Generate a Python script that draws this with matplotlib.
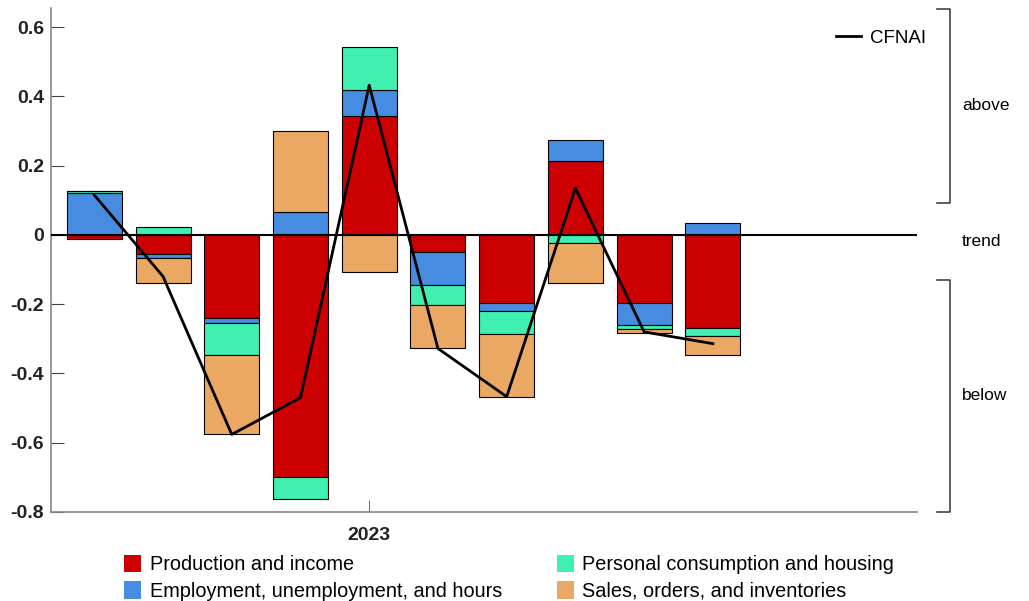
import numpy as np
import matplotlib
matplotlib.use("Agg")
import matplotlib.pyplot as plt
from matplotlib.patches import Patch
import matplotlib.transforms as mtransforms

plt.rcParams["font.family"] = ["Liberation Sans", "DejaVu Sans"]

# monthly contributions, Sep 2022 .. Jun 2023
months = ["2022-09", "2022-10", "2022-11", "2022-12", "2023-01",
          "2023-02", "2023-03", "2023-04", "2023-05", "2023-06"]
production = [-0.012, -0.056, -0.239, -0.700, 0.343, -0.048, -0.197, 0.213, -0.197, -0.269]
employment = [0.122, -0.012, -0.014, 0.066, 0.075, -0.098, -0.024, 0.060, -0.063, 0.034]
consumption = [0.005, 0.022, -0.095, -0.063, 0.124, -0.055, -0.066, -0.022, -0.012, -0.024]
sales = [0.000, -0.070, -0.228, 0.233, -0.108, -0.125, -0.180, -0.117, -0.012, -0.055]
cfnai = [0.115, -0.120, -0.576, -0.470, 0.432, -0.328, -0.467, 0.135, -0.280, -0.314]

series = [
    ("Production and income", production, "#cc0000"),
    ("Employment, unemployment, and hours", employment, "#468ce0"),
    ("Personal consumption and housing", consumption, "#3ff0b0"),
    ("Sales, orders, and inventories", sales, "#eba862"),
]

W, H = 1029, 601
fig = plt.figure(figsize=(W / 100, H / 100), dpi=100)
ax = fig.add_axes([51 / W, 1 - 512 / H, (917 - 51) / W, (512 - 8) / H])

x = np.arange(len(months))
pos_base = np.zeros(len(months))
neg_base = np.zeros(len(months))
for name, vals, color in series:
    vals = np.array(vals)
    bottoms = np.where(vals >= 0, pos_base, neg_base)
    ax.bar(x, vals, width=0.8, bottom=bottoms, color=color,
           edgecolor="black", linewidth=0.8, zorder=2)
    pos_base += np.clip(vals, 0, None)
    neg_base += np.clip(vals, None, 0)

ax.axhline(0, color="black", linewidth=1.5, zorder=3)
line, = ax.plot(x, cfnai, color="black", linewidth=2, zorder=4, label="CFNAI")

ax.set_xlim(-0.63, 11.97)
ax.set_ylim(-0.8, 0.655)
ax.set_yticks([-0.8, -0.6, -0.4, -0.2, 0, 0.2, 0.4, 0.6])
ax.set_yticklabels(["-0.8", "-0.6", "-0.4", "-0.2", "0", "0.2", "0.4", "0.6"],
                   fontweight="bold", fontsize=14, color="#222222")
ax.set_xticks([4])
ax.set_xticklabels(["2023"], fontweight="bold", fontsize=14, color="#222222")
ax.tick_params(axis="y", direction="in", length=9, color="#444444", pad=5)
ax.tick_params(axis="x", direction="in", length=9, color="#777777", pad=11)

for side in ["top", "right"]:
    ax.spines[side].set_visible(False)
for side in ["left", "bottom"]:
    ax.spines[side].set_color("#888888")
    ax.spines[side].set_linewidth(1.2)

ax.legend(handles=[line], loc="upper right", bbox_to_anchor=(1.030, 0.99),
          frameon=False, fontsize=13.5, handlelength=1.3, handletextpad=0.5)

# above / trend / below brackets
trans = mtransforms.blended_transform_factory(ax.transAxes, ax.transData)
bx = (950 - 51) / (917 - 51)
ax0 = (937 - 51) / (917 - 51)
for top, bottom in [(0.652, 0.093), (-0.13, -0.8)]:
    ax.plot([ax0, bx, bx, ax0], [top, top, bottom, bottom], color="#333333",
            linewidth=1.1, transform=trans, clip_on=False)
tx = (962 - 51) / (917 - 51)
for label, yv in [("above", 0.373), ("trend", -0.02), ("below", -0.465)]:
    ax.text(tx, yv, label, transform=trans, fontsize=12.5, va="center", ha="left")

handles = [Patch(facecolor=c, edgecolor="none", label=n) for n, _, c in series]
fig.legend(handles=handles, ncol=2,
           loc="upper left", bbox_to_anchor=(116 / W, 1 - 547 / H), frameon=False,
           fontsize=14.3, handlelength=0.85, handleheight=0.95, handletextpad=0.45,
           columnspacing=2.75, labelspacing=0.36, borderaxespad=0.0)

fig.savefig("out.png", dpi=100)
